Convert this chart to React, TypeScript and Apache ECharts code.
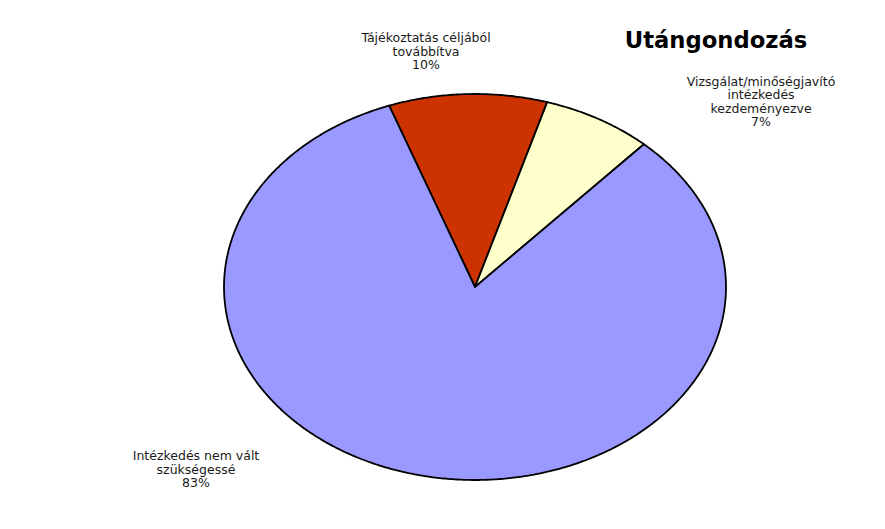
import React, { useEffect, useRef } from "react";
import * as echarts from "echarts";

const categories = [
  "Tájékoztatás céljából\ntovábbítva",
  "Vizsgálat/minőségjavító\nintézkedés\nkezdeményezve",
  "Intézkedés nem vált\nszükségessé",
];
const values = [10.2, 7.1, 82.7];
const colors = ["#CC3300", "#FFFFCC", "#9999FF"];
const titleText = "Utángondozás";

// layout
const CX = 475;
const CY = 287;
const RX = 251;
const RY = 193;
const START_DEG = -20;
const labelPos = [
  [426, 31],
  [761, 74.5],
  [196, 449],
];

export default function App() {
  const ref = useRef<HTMLDivElement>(null);
  useEffect(() => {
    document.body.style.margin = "0";
    if (!ref.current) return;
    const chart = echarts.init(ref.current, null, { renderer: "svg" });
    const total = values.reduce((a, b) => a + b, 0);
    const starts: number[] = [];
    let acc = 0;
    values.forEach((v) => {
      starts.push(acc);
      acc += v;
    });

    const renderItem = (params: any, api: any) => {
      const i = params.dataIndex;
      const v = api.value(0);
      const a0 = START_DEG + (starts[i] / total) * 360;
      const a1 = a0 + (v / total) * 360;
      const pts: number[][] = [[CX, CY]];
      const steps = Math.max(2, Math.ceil((a1 - a0) / 0.5));
      for (let k = 0; k <= steps; k++) {
        const t = ((a0 + ((a1 - a0) * k) / steps) * Math.PI) / 180;
        pts.push([CX + RX * Math.sin(t), CY - RY * Math.cos(t)]);
      }
      return {
        type: "polygon",
        shape: { points: pts },
        style: { fill: colors[i], stroke: "#000000", lineWidth: 1.8, lineJoin: "round" },
      };
    };

    const labelGraphics = categories.map((c, i) => ({
      type: "text",
      x: labelPos[i][0],
      y: labelPos[i][1],
      style: {
        text: `${c}\n${Math.round((values[i] / total) * 100)}%`,
        fontFamily: "DejaVu Sans",
        fontSize: 12.5,
        lineHeight: 13.5,
        fill: "#1a1a1a",
        align: "center",
        verticalAlign: "top",
      },
    }));

    chart.setOption({
      animation: false,
      backgroundColor: "#ffffff",
      graphic: [
        ...labelGraphics,
        {
          type: "text",
          x: 716,
          y: 40,
          style: {
            text: titleText,
            fontFamily: "DejaVu Sans",
            fontWeight: "bold",
            fontSize: 22.7,
            fill: "#000000",
            align: "center",
            verticalAlign: "middle",
          },
        },
      ],
      series: [
        {
          type: "custom",
          coordinateSystem: "none",
          renderItem,
          data: values.map((v, i) => ({ name: categories[i], value: [v] })),
        },
      ],
    });
    return () => chart.dispose();
  }, []);
  return <div ref={ref} style={{ width: 885, height: 529 }} />;
}
